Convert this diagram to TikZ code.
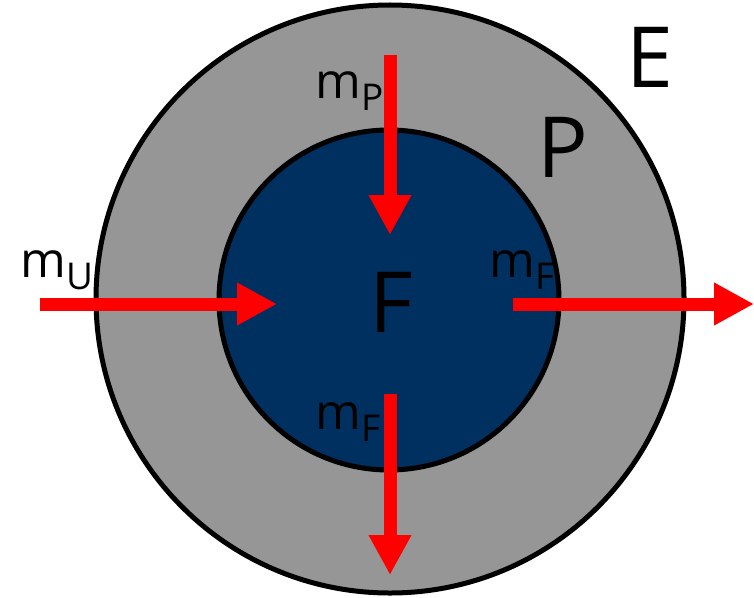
\documentclass[tikz,border=0pt]{standalone}
\usepackage{fontspec}
\setmainfont{Open Sans}
\usepackage{tikz}
\usetikzlibrary{arrows.meta,positioning}
\usepackage{xcolor}
\definecolor{shellgray}{RGB}{150,150,150}
\definecolor{corenavy}{RGB}{0,48,96}
\definecolor{flowred}{RGB}{255,0,0}
\newcommand{\msub}[1]{m\raisebox{-0.25cm}{\fontsize{21}{21}\selectfont #1}}
\tikzset{
    region/.style={circle, draw=black, line width=0.1cm, inner sep=0pt},
    flow/.style={flowred, line width=0.26cm, -{Triangle[width=0.8cm, length=0.8cm]}},
    flowlabel/.style={font=\fontsize{28}{28}\selectfont, inner sep=0pt, anchor=base west},
    zonelabel/.style={font=\fontsize{48}{48}\selectfont, inner sep=0pt},
}
\begin{document}
\begin{tikzpicture}
    \useasboundingbox (0,0) rectangle (15.08,11.94);
    \node[region, fill=shellgray, minimum size=11.76cm] (outer) at (7.8,5.96) {};
    \node[region, fill=corenavy, minimum size=6.8cm] (inner) at (7.78,5.94) {};
    % Region labels
    \node[zonelabel] (E) at (13.0,10.8) {E};
    \node[zonelabel] (P) at (11.26,9.0) {P};
    \node[zonelabel] (F) at (7.82,5.9) {F};
    % Flow end points
    \coordinate (pin0) at (7.8,10.84);
    \coordinate (pin1) at (7.8,7.24);
    \coordinate (uin0) at (0.8,5.86);
    \coordinate (uin1) at (5.54,5.86);
    \coordinate (fout0) at (10.26,5.86);
    \coordinate (fout1) at (15.08,5.86);
    \coordinate (fdown0) at (7.8,4.06);
    \coordinate (fdown1) at (7.8,0.44);
    % Mass flows
    \draw[flow] (pin0) -- (pin1);
    \draw[flow] (uin0) -- (uin1);
    \draw[flow] (fout0) -- (fout1);
    \draw[flow] (fdown0) -- (fdown1);
    \node[flowlabel] (mP) at (6.3,9.98) {\msub{P}};
    \node[flowlabel] (mU) at (0.4,6.4) {\msub{U}};
    \node[flowlabel] (mFr) at (9.78,6.4) {\msub{F}};
    \node[flowlabel] (mFb) at (6.3,3.36) {\msub{F}};
\end{tikzpicture}
\end{document}
